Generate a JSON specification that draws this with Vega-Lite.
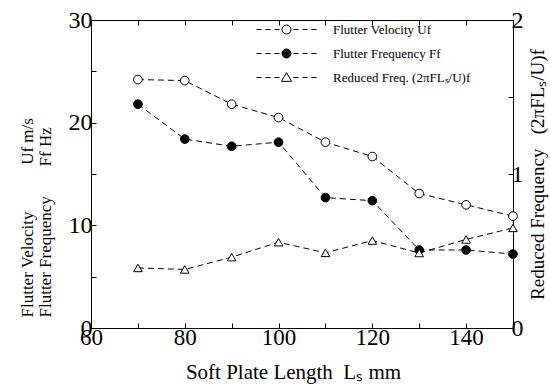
{
  "$schema": "https://vega.github.io/schema/vega-lite/v6.json",
  "width": 422,
  "height": 308,
  "autosize": {"type": "none"},
  "padding": {"left": 91, "top": 20, "right": 37, "bottom": 64},
  "background": "white",
  "config": {
    "font": "Liberation Serif",
    "view": {"stroke": "black", "strokeWidth": 1},
    "axis": {
      "domainColor": "black", "domainWidth": 1, "tickColor": "black", "tickWidth": 1,
      "labelColor": "black", "titleColor": "black",
      "labelFont": "Liberation Serif", "titleFont": "Liberation Serif",
      "titleFontWeight": "normal", "grid": false, "labelFlush": false,
      "labelFontSize": 24, "titleFontSize": 18, "tickSize": -5
    }
  },
  "datasets": {
    "d": [
      {"L": 70, "series": "Flutter Velocity Uf", "value": 24.2},
      {"L": 80, "series": "Flutter Velocity Uf", "value": 24.1},
      {"L": 90, "series": "Flutter Velocity Uf", "value": 21.8},
      {"L": 100, "series": "Flutter Velocity Uf", "value": 20.5},
      {"L": 110, "series": "Flutter Velocity Uf", "value": 18.1},
      {"L": 120, "series": "Flutter Velocity Uf", "value": 16.7},
      {"L": 130, "series": "Flutter Velocity Uf", "value": 13.1},
      {"L": 140, "series": "Flutter Velocity Uf", "value": 12.0},
      {"L": 150, "series": "Flutter Velocity Uf", "value": 10.9},
      {"L": 70, "series": "Flutter Frequency Ff", "value": 21.8},
      {"L": 80, "series": "Flutter Frequency Ff", "value": 18.4},
      {"L": 90, "series": "Flutter Frequency Ff", "value": 17.7},
      {"L": 100, "series": "Flutter Frequency Ff", "value": 18.1},
      {"L": 110, "series": "Flutter Frequency Ff", "value": 12.7},
      {"L": 120, "series": "Flutter Frequency Ff", "value": 12.4},
      {"L": 130, "series": "Flutter Frequency Ff", "value": 7.6},
      {"L": 140, "series": "Flutter Frequency Ff", "value": 7.6},
      {"L": 150, "series": "Flutter Frequency Ff", "value": 7.2},
      {"L": 70, "series": "Reduced Freq. (2πFLₛ/U)f", "value": 0.39},
      {"L": 80, "series": "Reduced Freq. (2πFLₛ/U)f", "value": 0.38},
      {"L": 90, "series": "Reduced Freq. (2πFLₛ/U)f", "value": 0.46},
      {"L": 100, "series": "Reduced Freq. (2πFLₛ/U)f", "value": 0.557},
      {"L": 110, "series": "Reduced Freq. (2πFLₛ/U)f", "value": 0.488},
      {"L": 120, "series": "Reduced Freq. (2πFLₛ/U)f", "value": 0.568},
      {"L": 130, "series": "Reduced Freq. (2πFLₛ/U)f", "value": 0.487},
      {"L": 140, "series": "Reduced Freq. (2πFLₛ/U)f", "value": 0.575},
      {"L": 150, "series": "Reduced Freq. (2πFLₛ/U)f", "value": 0.65}
    ]
  },
  "data": {"name": "d"},
  "layer": [
    {
      "transform": [{"filter": {"field": "series", "oneOf": ["Flutter Velocity Uf", "Flutter Frequency Ff"]}}],
      "encoding": {
        "x": {
          "field": "L", "type": "quantitative",
          "scale": {"domain": [60, 150], "nice": false, "zero": false},
          "axis": {
            "orient": "bottom",
            "values": [60, 70, 80, 90, 100, 110, 120, 130, 140, 150],
            "labelExpr": "datum.value % 20 === 0 && datum.value < 150 ? datum.label : ''",
            "labelFontSize": 23,
            "labelPadding": 3,
            "title": "Soft Plate Length\u2002Lₛ mm",
            "titleFontSize": 21,
            "titleX": 202,
            "titlePadding": 12
          }
        },
        "y": {
          "field": "value", "type": "quantitative",
          "scale": {"domain": [0, 30], "nice": false, "zero": true},
          "axis": {
            "orient": "left",
            "values": [0, 5, 10, 15, 20, 25, 30],
            "labelExpr": "datum.value % 10 === 0 ? datum.label : ''",
            "labelPadding": 4,
            "title": ["Flutter Velocity\u2003\u2003\u2002 Uf m/s", "Flutter Frequency\u2003\u2002 Ff Hz"],
            "titleFontSize": 17,
            "titleLineHeight": 18,
            "titleAnchor": "start",
            "titleY": 297,
            "titlePadding": 14
          }
        }
      },
      "layer": [
        {
          "mark": {"type": "line", "strokeDash": [6, 4], "color": "black", "strokeWidth": 1},
          "encoding": {"detail": {"field": "series"}}
        },
        {
          "mark": {"type": "point", "shape": "circle", "stroke": "black", "strokeWidth": 1, "size": 75, "opacity": 1},
          "encoding": {
            "fill": {"condition": {"test": "datum.series === 'Flutter Frequency Ff'", "value": "black"}, "value": "white"}
          }
        },
        {
          "mark": {"type": "point", "opacity": 0, "size": 10, "color": "black", "filled": false, "strokeWidth": 1},
          "encoding": {
            "shape": {
              "field": "series", "type": "nominal",
              "scale": {
                "domain": ["Flutter Velocity Uf", "Flutter Frequency Ff", "Reduced Freq. (2πFLₛ/U)f"],
                "range": [
                  "M-4.29,0L-3.57,0M-3,0L-2.29,0M-1.71,0L-1,0M1,0L1.71,0M2.29,0L3,0M3.57,0L4.29,0M-0.64,0A0.64,0.64,0,1,0,0.64,0A0.64,0.64,0,1,0,-0.64,0Z",
                  "M-4.29,0L-3.57,0M-3,0L-2.29,0M-1.71,0L-1,0M1,0L1.71,0M2.29,0L3,0M3.57,0L4.29,0M-0.64,0A0.64,0.64,0,1,0,0.64,0A0.64,0.64,0,1,0,-0.64,0ZM-0.57,0A0.57,0.57,0,1,0,0.57,0A0.57,0.57,0,1,0,-0.57,0ZM-0.5,0A0.5,0.5,0,1,0,0.5,0A0.5,0.5,0,1,0,-0.5,0ZM-0.43,0A0.43,0.43,0,1,0,0.43,0A0.43,0.43,0,1,0,-0.43,0ZM-0.36,0A0.36,0.36,0,1,0,0.36,0A0.36,0.36,0,1,0,-0.36,0ZM-0.29,0A0.29,0.29,0,1,0,0.29,0A0.29,0.29,0,1,0,-0.29,0ZM-0.22,0A0.22,0.22,0,1,0,0.22,0A0.22,0.22,0,1,0,-0.22,0ZM-0.15,0A0.15,0.15,0,1,0,0.15,0A0.15,0.15,0,1,0,-0.15,0ZM-0.08,0A0.08,0.08,0,1,0,0.08,0A0.08,0.08,0,1,0,-0.08,0ZM-0.64,0L0.64,0M0,-0.64L0,0.64",
                  "M-4.29,0L-3.57,0M-3,0L-2.29,0M-1.71,0L-1,0M1,0L1.71,0M2.29,0L3,0M3.57,0L4.29,0M0,-0.7L0.72,0.55L-0.72,0.55Z"
                ]
              },
              "legend": {
                "orient": "none", "legendX": 188, "legendY": 2, "title": null,
                "labelFontSize": 13, "labelFont": "Liberation Serif", "labelColor": "black",
                "labelOffset": 39, "symbolSize": 196, "rowPadding": 9, "padding": 0, "labelLimit": 300,
                "symbolStrokeWidth": 1, "symbolOpacity": 1
              }
            }
          }
        }
      ]
    },
    {
      "transform": [{"filter": {"field": "series", "equal": "Reduced Freq. (2πFLₛ/U)f"}}],
      "encoding": {
        "x": {
          "field": "L", "type": "quantitative",
          "scale": {"domain": [60, 150], "nice": false, "zero": false},
          "axis": {
            "orient": "top",
            "values": [60, 70, 80, 90, 100, 110, 120, 130, 140, 150],
            "labels": false,
            "title": null
          }
        },
        "y": {
          "field": "value", "type": "quantitative",
          "scale": {"domain": [0, 2], "nice": false, "zero": true},
          "axis": {
            "orient": "right",
            "values": [0, 0.5, 1, 1.5, 2],
            "labelExpr": "datum.value % 1 === 0 ? format(datum.value, 'd') : ''",
            "labelPadding": 3,
            "title": "Reduced Frequency\u2002 (2πFLₛ/U)f",
            "titleFontSize": 19,
            "titleAngle": 270,
            "titleBaseline": "top",
            "titlePadding": 5
          }
        }
      },
      "layer": [
        {
          "mark": {"type": "line", "strokeDash": [6, 4], "color": "black", "strokeWidth": 1},
          "encoding": {}
        },
        {
          "mark": {"type": "point", "shape": "triangle-up", "fill": "white", "stroke": "black", "strokeWidth": 1, "size": 75, "opacity": 1},
          "encoding": {}
        }
      ]
    }
  ],
  "resolve": {"scale": {"y": "independent"}, "axis": {"x": "independent", "y": "independent"}}
}
